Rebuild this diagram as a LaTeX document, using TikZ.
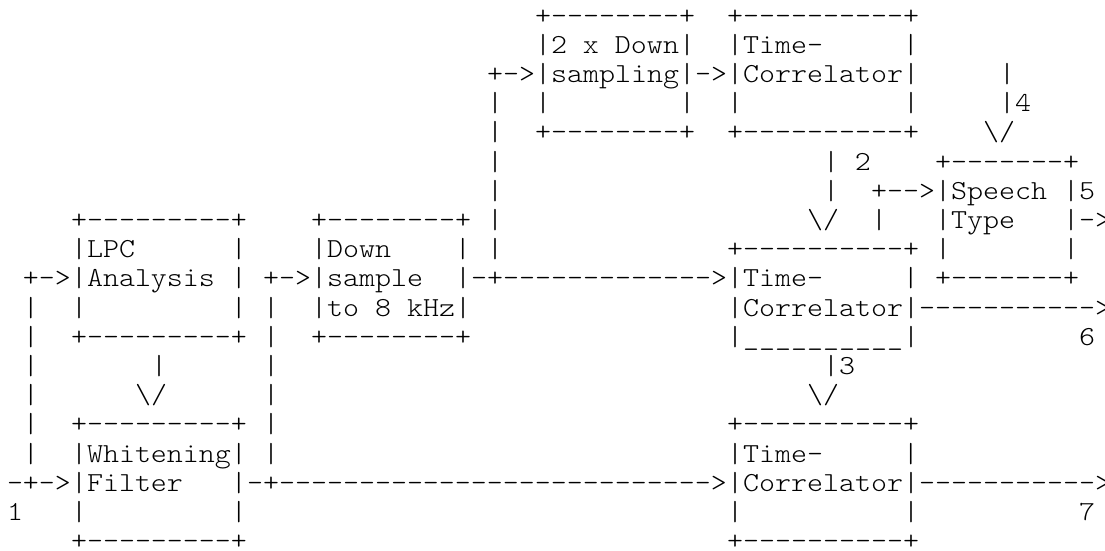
\documentclass[tikz,border=0pt]{standalone}
\usepackage{fontspec}
\setmonofont{Latin Modern Mono Light}[FakeStretch=1.1082]
\tikzset{
  asc/.style={inner sep=0pt, outer sep=0pt, anchor=base west,
    font=\ttfamily\fontsize{27.5}{29.2}\selectfont},
}
% one text cell of the grid: column, row
\newcommand{\cell}[2]{({7+16*(#1)},{-24.1-29.2*(#2)})}
\newcommand{\bs}{\textbackslash}
% a block: name, column, first row, its lines
\newcommand{\blk}[4]{%
  \foreach \bline [count=\i from 0] in {#4}
    {\node[asc] (#1\i) at \cell{#2}{#3+\i} {\bline};}}
\begin{document}
\begin{tikzpicture}[x=1pt,y=1pt]
\useasboundingbox (0,0) rectangle (1105,-550);

\blk{lpc}{4}{7}{{+---------+},{|LPC~~~~~~|},{|Analysis~|},{|~~~~~~~~~|},{+---------+}}
\blk{whf}{4}{14}{{+---------+},{|Whitening|},{|Filter~~~|},{|~~~~~~~~~|},{+---------+}}
\blk{dwn}{19}{7}{{+--------+},{|Down~~~~|},{|sample~~|},{|to~8~kHz|},{+--------+}}
\blk{dsm}{33}{0}{{+--------+},{|2~x~Down|},{|sampling|},{|~~~~~~~~|},{+--------+}}
\blk{tca}{45}{0}{{+----------+},{|Time-~~~~~|},{|Correlator|},{|~~~~~~~~~~|},{+----------+}}
\blk{tcb}{45}{8}{{+----------+},{|Time-~~~~~|},{|Correlator|},{|\_\_\_\_\_\_\_\_\_\_|}}
\blk{tcc}{45}{14}{{+----------+},{|Time-~~~~~|},{|Correlator|},{|~~~~~~~~~~|},{+----------+}}
\blk{spt}{58}{5}{{+-------+},{|Speech~|},{|Type~~~|},{|~~~~~~~|},{+-------+}}

% input 1
\node[asc] (in) at \cell{0}{16} {-+->};
\node[asc] (one) at \cell{0}{17} {1};
\node[asc] (inl) at \cell{1}{9} {+->};
\foreach \r in {10,...,15} \node[asc] (inv\r) at \cell{1}{\r} {|};
\node[asc] (lw) at \cell{9}{12} {|};
\node[asc] (lwa) at \cell{8}{13} {\bs/};

% whitening filter out
\node[asc] (wo) at \cell{15}{16} {-+----------{}----------{}------->};
\node[asc] (wd) at \cell{16}{9} {+->};
\foreach \r in {10,...,15} \node[asc] (wv\r) at \cell{16}{\r} {|};

% down sample out
\node[asc] (do) at \cell{29}{9} {-+----------{}--->};
\foreach \r in {3,...,8} \node[asc] (dv\r) at \cell{30}{\r} {|};
\node[asc] (du) at \cell{30}{2} {+->};
\node[asc] (dt) at \cell{43}{2} {->};

% 2, 3, 4
\node[asc] (ta) at \cell{51}{5} {|~2};
\node[asc] (tb) at \cell{51}{6} {|};
\node[asc] (tba) at \cell{50}{7} {\bs/};
\node[asc] (ts) at \cell{54}{6} {+-->};
\node[asc] (tsv) at \cell{54}{7} {|};
\node[asc] (fa) at \cell{62}{2} {|};
\node[asc] (fb) at \cell{62}{3} {|4};
\node[asc] (fba) at \cell{61}{4} {\bs/};
\node[asc] (ca) at \cell{51}{12} {|3};
\node[asc] (caa) at \cell{50}{13} {\bs/};

% outputs 5, 6, 7
\node[asc] (five) at \cell{67}{6} {5};
\node[asc] (fo) at \cell{67}{7} {->};
\node[asc] (so) at \cell{57}{10} {----------{}->};
\node[asc] (six) at \cell{67}{11} {6};
\node[asc] (vo) at \cell{57}{16} {----------{}->};
\node[asc] (seven) at \cell{67}{17} {7};
\end{tikzpicture}
\end{document}
